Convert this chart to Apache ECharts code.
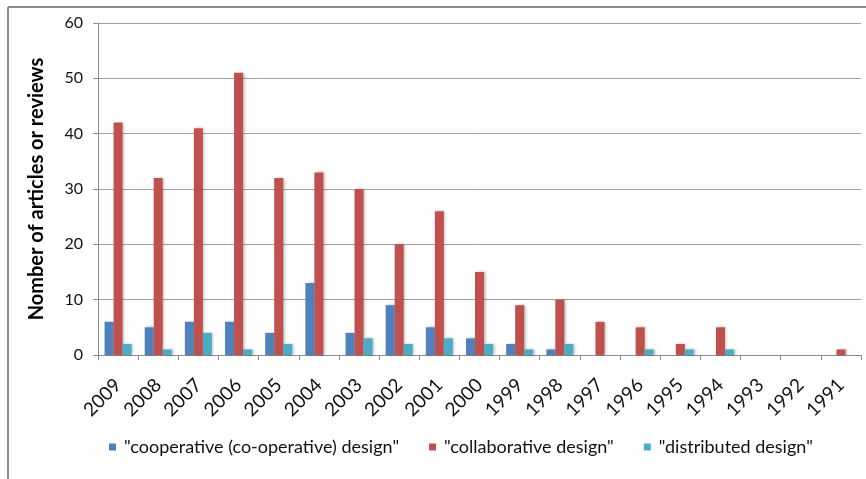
<!DOCTYPE html>
<html>
<head>
<meta charset="utf-8">
<script src="https://cdn.jsdelivr.net/npm/echarts@6/dist/echarts.min.js"></script>
<style>
html,body{margin:0;padding:0;background:#fff;}
#chart{width:866px;height:479px;}
</style>
</head>
<body>
<div id="chart"></div>
<script>
var years = ['2009','2008','2007','2006','2005','2004','2003','2002','2001','2000','1999','1998','1997','1996','1995','1994','1993','1992','1991'];
var cooperative = [6,5,6,6,4,13,4,9,5,3,2,1,0,0,0,0,0,0,0];
var collaborative = [42,32,41,51,32,33,30,20,26,15,9,10,6,5,2,5,0,0,1];
var distributed = [2,1,4,1,2,0,3,2,3,2,1,2,0,1,1,1,0,0,0];
var seriesNames = ['"cooperative (co-operative) design"','"collaborative design"','"distributed design"'];
var colors = ['#4F81BD','#C0504D','#4BACC6'];
var yTicks = [0,10,20,30,40,50,60];

var font = 'Lato, "Open Sans", sans-serif';
var chart = echarts.init(document.getElementById('chart'));
function mk(name, data, color){
  return {
    name: name, type: 'bar', data: data, barWidth: 9, barGap: '0%',
    itemStyle: {color: color, shadowBlur: 3, shadowColor: 'rgba(0,0,0,0.3)', shadowOffsetX: 1.5, shadowOffsetY: 0},
    emphasis: {disabled: true}
  };
}
chart.setOption({
  animation: false,
  color: colors,
  grid: {left: 98, right: 5, top: 23, bottom: 124, containLabel: false},
  graphic: [
    {type: 'line', shape: {x1: 8, y1: 7, x2: 8, y2: 479}, style: {stroke: '#8c8c8c', lineWidth: 2}},
    {type: 'line', shape: {x1: 8, y1: 7, x2: 866, y2: 7}, style: {stroke: '#8c8c8c', lineWidth: 2}}
  ],
  legend: {
    top: 433, left: 104, itemWidth: 7, itemHeight: 7, itemGap: 30,
    icon: 'rect',
    textStyle: {fontFamily: font, fontSize: 18, color: '#111', padding: [0, 0, 0, 3]},
    data: seriesNames
  },
  xAxis: {
    type: 'category', data: years,
    axisLine: {lineStyle: {color: '#8c8c8c'}},
    axisTick: {show: true, alignWithLabel: false, length: 5, lineStyle: {color: '#8c8c8c'}},
    axisLabel: {rotate: 45, fontFamily: font, fontSize: 19, color: '#111', margin: 27, interval: 0}
  },
  yAxis: {
    type: 'value', min: 0, max: 60, interval: 10,
    name: 'Nomber of articles or reviews', nameLocation: 'middle', nameGap: 51,
    nameTextStyle: {fontFamily: font, fontSize: 20, fontWeight: 'bold', color: '#000'},
    axisLine: {show: true, lineStyle: {color: '#8c8c8c'}},
    axisTick: {show: true, length: 5, lineStyle: {color: '#8c8c8c'}},
    axisLabel: {fontFamily: font, fontSize: 16, color: '#111', margin: 15,
      formatter: function(v){ return yTicks.indexOf(v) >= 0 ? String(v) : ''; }},
    splitLine: {lineStyle: {color: '#a0a0a0', width: 1}}
  },
  series: [
    mk(seriesNames[0], cooperative, colors[0]),
    mk(seriesNames[1], collaborative, colors[1]),
    mk(seriesNames[2], distributed, colors[2])
  ]
});
</script>
</body>
</html>
